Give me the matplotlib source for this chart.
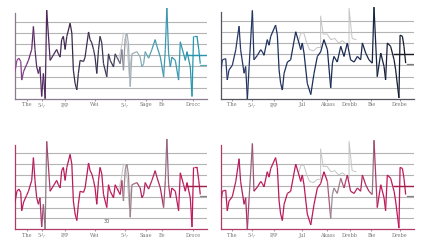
"""
Four small line panels with gradient-coloured series and horizontal grid.
"""
import numpy as np
import matplotlib
matplotlib.use("Agg")
import matplotlib.pyplot as plt
from matplotlib.collections import LineCollection
from matplotlib.colors import LinearSegmentedColormap

# --- data ------------------------------------------------------------------
# series A: left-hand panels
xa = [0, 1, 2, 3, 3.5, 4.5, 6, 7, 8.7, 9.6, 10.4, 11.3, 12.2, 13, 13.9, 14.8,
      15.7, 16.5, 18.3, 20, 21.7, 22.6, 23.5, 24.3, 25.2, 26.1, 27, 28.7,
      29.6, 30.4, 31.3, 32.2, 33, 33.9, 35.7, 36.5, 38.3, 39.1, 40, 40.9,
      41.7, 42.6, 43.5, 44.3, 45.2, 46.1, 47.8, 48.7, 49.6, 51.3, 52.2, 53,
      54.8, 55.7, 56.5, 57.4, 58.3, 59.1, 60, 60.9, 63.5, 65.2, 66.1, 67,
      67.8, 69.6, 71.3, 73, 73.9, 75.7, 77.4, 78.3, 79.1, 80, 80.9, 81.7,
      83.5, 85.2, 86.1, 87.8, 88.7, 89.6, 91.3, 92.2, 93, 94.8, 95.7, 96.5]
ya = [2.5, 3.5, 3.7, 3.4, 1.7, 2.5, 3.1, 3.5, 4.5, 6.6, 4.5, 2.9, 2.3, 2.9,
      0.2, 2.3, 0.0, 8.1, 3.5, 4.0, 4.5, 4.1, 3.8, 5.4, 5.7, 4.5, 5.7, 6.9,
      6.0, 2.6, 1.4, 0.8, 2.3, 3.5, 3.4, 3.8, 6.1, 5.4, 5.1, 4.5, 3.8, 2.3,
      4.5, 5.7, 5.1, 3.2, 2.0, 4.1, 3.5, 2.9, 4.1, 3.8, 3.2, 4.5, 2.6, 5.5,
      6.0, 5.0, 1.1, 4.1, 4.3, 3.8, 2.9, 3.2, 4.3, 3.7, 4.5, 5.4, 4.8, 3.8,
      2.0, 4.5, 8.4, 4.1, 2.9, 3.8, 3.5, 1.7, 5.2, 4.1, 3.5, 4.3, 2.9, 0.2,
      5.7, 5.7, 4.5, 3.2]

# series B: right-hand panels
xb = [0, 0.9, 2.6, 3.4, 4.3, 6.0, 7.8, 9.5, 10.3, 12.1, 12.9, 13.8, 14.7,
      16.4, 17.2, 19, 20.7, 21.6, 22.4, 24.1, 25, 25.9, 28.4, 29.3, 30.2, 31,
      31.9, 32.8, 34.5, 36.2, 38.8, 40.5, 41.4, 42.2, 43.1, 44.8, 46.6, 48.3,
      50, 51.7, 53.4, 55.2, 56.9, 57.8, 58.6, 60.3, 62.1, 63.8, 65.5, 67.2,
      69, 70.7, 72.4, 73.3, 75, 76.7, 78.4, 79.3, 81, 82.8, 84.5, 85.3, 86.2,
      87.9, 89.7, 90.5, 92.2, 92.8, 94, 94.8, 95.7]
yb = [2.4, 3.5, 3.6, 1.7, 2.6, 3.0, 4.4, 6.5, 4.4, 2.3, 2.9, 0.0, 2.9, 7.9,
      3.5, 3.9, 4.4, 4.2, 3.9, 5.3, 4.8, 5.6, 6.6, 5.7, 2.6, 1.4, 0.8, 2.3,
      3.3, 3.5, 6.0, 5.0, 4.4, 5.0, 4.1, 1.4, 0.4, 2.3, 3.8, 4.2, 5.3, 4.4,
      1.0, 3.2, 3.8, 3.3, 4.7, 3.8, 5.0, 3.5, 3.3, 3.8, 3.5, 5.0, 4.1, 3.5,
      3.2, 8.2, 2.0, 4.1, 2.9, 1.7, 5.0, 4.7, 3.5, 2.6, 0.1, 5.7, 5.6, 4.7,
      3.2]

# faint grey companion traces
ghost_xa = [54, 55.5, 56.5, 57.5, 58.5, 59.5, 60.5, 61]
ghost_ya = [3.6, 4.8, 6.0, 5.9, 4.6, 2.0, 3.8, 4.1]
ghost_xb = [40, 41.5, 43, 44.5, 46, 48, 50, 51.7, 51.7, 53, 55, 57, 59, 61,
            63, 65, 66.4, 66.4, 68, 70]
ghost_yb = [5.0, 5.9, 5.9, 5.0, 4.4, 4.3, 4.6, 4.6, 7.4, 5.8, 5.8, 5.3, 5.4,
            5.0, 5.2, 4.9, 4.7, 8.1, 5.4, 5.3]

tail_levels = [4.0, 3.1]

labels_left = ["The", "5-\\-", "P/P", "Wei", "5-\\-", "Sage", "Ee", "Drocc"]
labels_left_low = ["The", "5-\\-", "P/P", "Wei", "5-\\-", "Saae", "Ee", "Droce"]
labels_right = ["The", "5-\\-", "P/P", "Jul", "Akass", "Drebb", "Bie", "Drebe"]
ticks_left = [6.3, 14.1, 26, 41.7, 57.3, 68.2, 76.6, 92.7]
ticks_right = [5.8, 16.2, 27.6, 42, 55, 67, 78, 92.8]

cm_purple = LinearSegmentedColormap.from_list(
    "p", [(0, "#9a4a9a"), (0.1, "#5a2a66"), (0.3, "#3a2a4a"), (0.52, "#3c3a58"),
          (0.58, "#a8aeb6"), (0.64, "#9ab4bc"), (0.72, "#4a9ab0"), (1, "#1e94ae")])
cm_navy = LinearSegmentedColormap.from_list(
    "n", [(0, "#2a3a6a"), (0.4, "#1a2f5a"), (0.7, "#1a2a50"), (1, "#101820")])
cm_crimson = LinearSegmentedColormap.from_list(
    "c", [(0, "#c0185a"), (0.13, "#b02060"), (0.16, "#8a8088"), (0.18, "#b81a5a"),
          (0.55, "#c0185a"), (0.57, "#9a9098"), (0.62, "#a07888"), (0.66, "#b82060"),
          (0.77, "#b02a60"), (0.79, "#8a8088"), (0.81, "#c0185a"), (1, "#c0185a")])


def panel(fig, rect, xs, ys, gx, gy, cmap, spine_col, labels, ticks, tail_cols):
    ax = fig.add_axes(rect)
    ax.set_xlim(0, 100)
    ax.set_ylim(0, 8.3)
    for lv in range(1, 8):
        ax.axhline(lv, color="#b4b4b4", lw=0.8, zorder=1)
    ax.plot(gx, gy, color="#c4c4c4", lw=0.7, zorder=2)
    pts = np.column_stack([xs, ys])
    segs = np.stack([pts[:-1], pts[1:]], axis=1)
    mids = (np.asarray(xs[:-1]) + np.asarray(xs[1:])) / 2 / 100
    lc = LineCollection(segs, colors=cmap(mids), linewidths=0.9, zorder=3)
    ax.add_collection(lc)
    ax.plot([89.6, 100], [tail_levels[0]] * 2, color=tail_cols[0], lw=1.0, zorder=3)
    ax.plot([96.5, 100], [tail_levels[1]] * 2, color=tail_cols[1], lw=0.9, zorder=3)
    for s in ("top", "right"):
        ax.spines[s].set_visible(False)
    ax.spines["left"].set_color(spine_col)
    ax.spines["left"].set_bounds(0, 7.8)
    ax.spines["bottom"].set_color(spine_col)
    ax.spines["left"].set_linewidth(0.9)
    ax.spines["bottom"].set_linewidth(0.9)
    ax.set_yticks([])
    ax.set_xticks(ticks)
    ax.set_xticklabels(labels, fontsize=3.6, color="#666666",
                       family="DejaVu Serif")
    ax.tick_params(axis="x", length=1.5, width=0.5, pad=1, colors="#777777")
    return ax


fig = plt.figure(figsize=(4.29, 2.40), dpi=100)

panel(fig, [15 / 429, 0.589, 192 / 429, 0.378], xa, ya, ghost_xa, ghost_ya,
      cm_purple, "#8a7a90", labels_left, ticks_left, ["#2a94ae", "#5aa8b8"])
panel(fig, [220.7 / 429, 0.5875, 193.3 / 429, 0.3875], xb, yb, ghost_xb, ghost_yb,
      cm_navy, "#555560", labels_right, ticks_right, ["#1a1a22", "#7a7a80"])
ax3 = panel(fig, [15 / 429, 0.045, 192 / 429, 0.375], xa, ya, ghost_xa, ghost_ya,
            cm_crimson, "#b03a6a", labels_left_low, ticks_left, ["#a0204a", "#8a8088"])
ax3.text(48, 0.55, "30", fontsize=3.6, color="#555555", ha="center")
panel(fig, [220.7 / 429, 0.045, 193.3 / 429, 0.375], xb, yb, ghost_xb, ghost_yb,
      cm_crimson, "#b03a6a", labels_right, ticks_right, ["#a0204a", "#8a8088"])

fig.savefig("out.png", dpi=100)
